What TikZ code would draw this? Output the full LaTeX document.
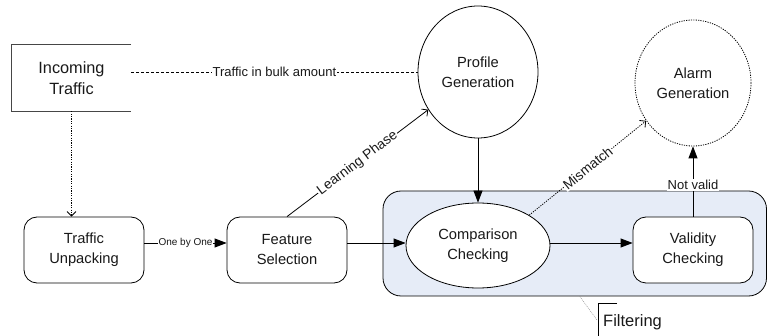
\documentclass[tikz,border=0pt]{standalone}
\usepackage{fontspec}
\setmainfont{Liberation Sans}
\usetikzlibrary{arrows.meta,shapes.geometric}
\definecolor{filtfill}{RGB}{230,236,247}
\definecolor{txt}{RGB}{25,25,25}
\begin{document}
\begin{tikzpicture}[x=1pt,y=-1pt,
  every node/.style={text=txt},
  mainfont/.style={font=\fontsize{14.7}{20}\selectfont},
  roundbox/.style={draw=black,line width=0.8pt,rounded corners=13pt,fill=white,minimum width=120pt,minimum height=66pt,align=center,inner sep=0pt,mainfont},
  oval/.style={ellipse,draw=black,line width=0.8pt,fill=white,align=center,inner sep=0pt,mainfont},
  lbl/.style={fill=white,inner sep=1pt,font=\fontsize{13}{15}\selectfont},
  filled/.style={-{Triangle[length=12pt,width=9pt]}},
  openarr/.style={-{Straight Barb[length=4.5pt,width=9pt]}},
  dotline/.style={dash pattern=on 1.2pt off 1.2pt},
  dashline/.style={dash pattern=on 3pt off 2pt}
]
\useasboundingbox (0,0) rectangle (768,336);

% filtering region
\node (fb) [rectangle,draw=black,line width=0.8pt,fill=filtfill,rounded corners=18pt,minimum width=383.5pt,minimum height=105pt,inner sep=0pt] at (574.75,243.5) {};

% nodes
\node (in) [minimum width=119pt,minimum height=66pt,align=center,inner sep=0pt,font=\fontsize{16.3}{21}\selectfont] at (71.5,78) {Incoming\\Traffic};
\draw[draw={rgb,255:red,70;green,70;blue,70},line width=0.8pt] (in.north east) -- (in.north west) -- (in.south west) -- (in.south east);

\node (pg) [oval,minimum width=120pt,minimum height=132pt] at (478,72) {Profile\\Generation};
\node (ag) [oval,dotline,minimum width=116pt,minimum height=126pt] at (693,83) {Alarm\\Generation};
\node (tu) [roundbox] at (84,250) {Traffic\\Unpacking};
\node (fs) [roundbox] at (287,250) {Feature\\Selection};
\node (cc) [oval,minimum width=144pt,minimum height=85pt] at (478,245.5) {Comparison\\Checking};
\node (vc) [roundbox] at (693,250) {Validity\\Checking};

\coordinate (tue) at ([yshift=7pt]tu.east);
\coordinate (fsw) at ([yshift=7pt]fs.west);
\coordinate (fse) at ([yshift=7pt]fs.east);
\coordinate (vcw) at ([yshift=7pt]vc.west);

% connectors
\draw[dashline,line width=0.7pt] (in.east |- pg.west) -- node[lbl] {Traffic in bulk amount} (pg.west);
\draw[dotline,openarr,line width=0.8pt] (in.south) -- (in.south |- tu.north);
\draw[filled,line width=0.8pt] (tue) -- node[lbl,font=\fontsize{10}{12}\selectfont,inner sep=0.5pt] {One by One} (fsw);
\draw[openarr,line width=0.8pt] (fs.north) -- node[lbl,sloped,font=\fontsize{13.8}{15}\selectfont] {Learning Phase} (pg);
\draw[filled,line width=0.8pt] (fse) -- (fse -| cc.west);
\draw[filled,line width=0.8pt] (pg.south) -- (cc.north);
\draw[filled,line width=0.8pt] (vcw -| cc.east) -- (vcw);
\draw[dotline,openarr,line width=0.8pt] (cc.north east) -- node[lbl,sloped,font=\fontsize{13.8}{15}\selectfont] {Mismatch} (ag);
\draw[filled,line width=0.8pt] (vc.north) -- node[lbl,pos=0.45] {Not valid} (ag.south);

% filtering annotation
\node (fl) [anchor=west,inner sep=0pt,font=\fontsize{16.5}{18}\selectfont] at (603,322) {Filtering};
\coordinate (fa) at (597,320);
\draw[gray,line width=0.4pt,dash pattern=on 1pt off 1pt] ([xshift=5pt]fb.south) -- (fa);
\draw[black,line width=0.6pt] (617,303) -- (598,303) -- (598,336);
\end{tikzpicture}
\end{document}
